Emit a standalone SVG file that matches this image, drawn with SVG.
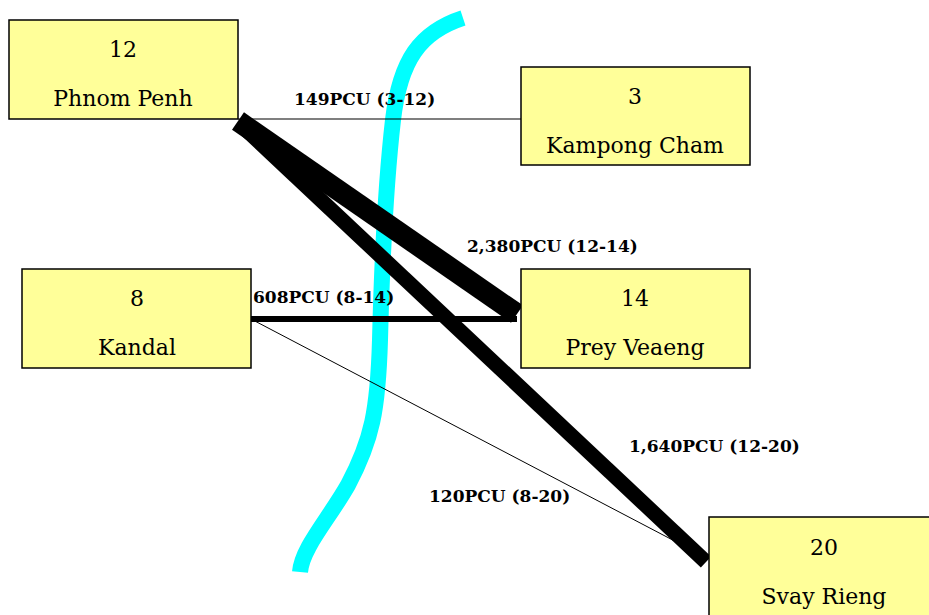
<svg xmlns="http://www.w3.org/2000/svg" width="929" height="615" viewBox="0 0 929 615">
  <style>
    .box { fill: #ffff99; stroke: #000; stroke-width: 1.5; }
    .nt { font-family: "DejaVu Serif", "Liberation Serif", serif; font-size: 22px; fill: #000; text-anchor: middle; }
    .lbl { font-family: "DejaVu Serif", "Liberation Serif", serif; font-size: 17px; font-weight: bold; fill: #000; }
    .flow { stroke: #000; fill: none; stroke-linecap: butt; }
  </style>
  <rect width="929" height="615" fill="#fff"/>

  <!-- river -->
  <path d="M463 18 C 420 32 400 60 393 120 C 385 190 382 260 380 340 C 378 410 372 440 348 485 C 328 520 302 548 300 572" fill="none" stroke="#00ffff" stroke-width="16"/>

  <g id="connectors">
    <line class="flow" x1="238" y1="119" x2="521" y2="119" stroke-width="1.2"/>
    <line class="flow" x1="251" y1="319" x2="517" y2="319" stroke-width="6"/>
    <line class="flow" x1="251" y1="319" x2="707" y2="558" stroke-width="1"/>
    <line class="flow" x1="240" y1="124" x2="706" y2="562" stroke-width="15"/>
    <line class="flow" x1="238" y1="121" x2="517" y2="314" stroke-width="21"/>
  </g>

  <g id="labels">
    <text class="lbl" x="294" y="105">149PCU (3-12)</text>
    <text class="lbl" x="467" y="252">2,380PCU (12-14)</text>
    <text class="lbl" x="253" y="303">608PCU (8-14)</text>
    <text class="lbl" x="629" y="452">1,640PCU (12-20)</text>
    <text class="lbl" x="429" y="502">120PCU (8-20)</text>
  </g>

  <g id="n12">
    <rect class="box" x="9" y="20" width="229" height="99"/>
    <text class="nt" x="123" y="57">12</text>
    <text class="nt" x="123" y="106">Phnom Penh</text>
  </g>
  <g id="n3">
    <rect class="box" x="521" y="67" width="229" height="98"/>
    <text class="nt" x="635" y="104">3</text>
    <text class="nt" x="635" y="153">Kampong Cham</text>
  </g>
  <g id="n8">
    <rect class="box" x="22" y="269" width="229" height="99"/>
    <text class="nt" x="137" y="306">8</text>
    <text class="nt" x="137" y="355">Kandal</text>
  </g>
  <g id="n14">
    <rect class="box" x="521" y="269" width="229" height="99"/>
    <text class="nt" x="635" y="306">14</text>
    <text class="nt" x="635" y="355">Prey Veaeng</text>
  </g>
  <g id="n20">
    <rect class="box" x="709" y="517" width="229" height="110"/>
    <text class="nt" x="824" y="555">20</text>
    <text class="nt" x="824" y="604">Svay Rieng</text>
  </g>
</svg>
